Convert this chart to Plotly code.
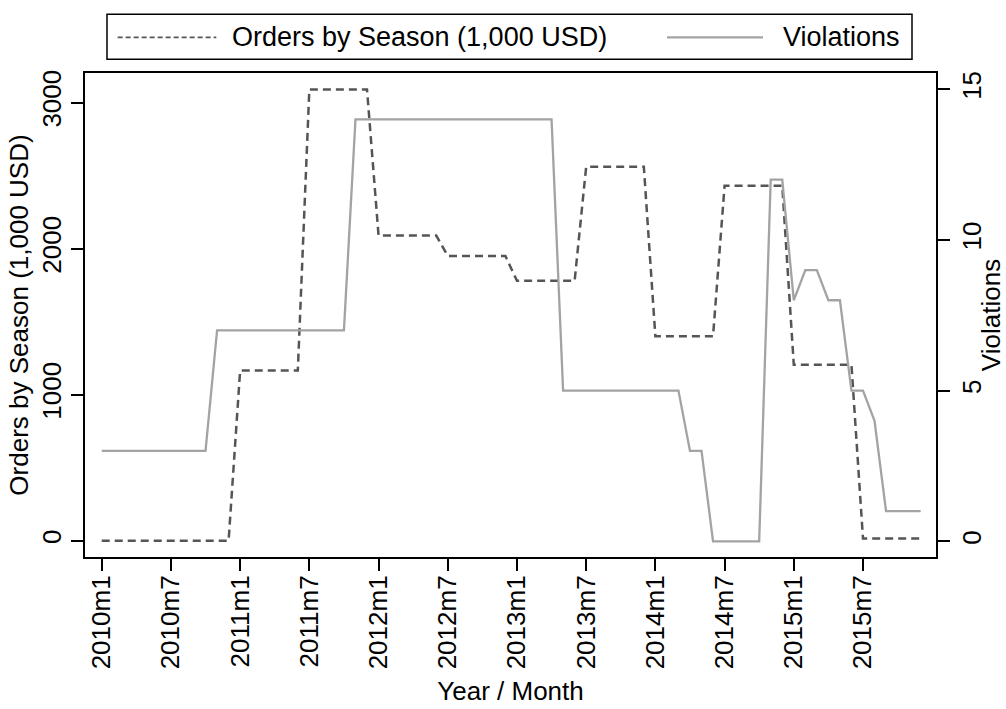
import plotly.graph_objects as go

# ---- data ----
months = [f"{y}m{m}" for y in range(2010, 2016) for m in range(1, 13)]
orders = [0, 0, 0, 0, 0, 0, 0, 0, 0, 0, 0, 0,
          1165, 1165, 1165, 1165, 1165, 1165,
          3090, 3090, 3090, 3090, 3090, 3090,
          2090, 2090, 2090, 2090, 2090, 2090,
          1950, 1950, 1950, 1950, 1950, 1950,
          1780, 1780, 1780, 1780, 1780, 1780,
          2560, 2560, 2560, 2560, 2560, 2560,
          1400, 1400, 1400, 1400, 1400, 1400,
          2430, 2430, 2430, 2430, 2430, 2430,
          1205, 1205, 1205, 1205, 1205, 1205,
          15, 15, 15, 15, 15, 15]
violations = [3, 3, 3, 3, 3, 3, 3, 3, 3, 3,
              7, 7, 7, 7, 7, 7, 7, 7, 7, 7, 7, 7,
              14, 14, 14, 14, 14, 14, 14, 14, 14, 14, 14, 14, 14, 14, 14, 14, 14, 14,
              5, 5, 5, 5, 5, 5, 5, 5, 5, 5, 5,
              3, 3,
              0, 0, 0, 0, 0,
              12, 12,
              8,
              9, 9,
              8, 8,
              5, 5,
              4,
              1, 1, 1, 1]
tick_labels = ["2010m1", "2010m7", "2011m1", "2011m7", "2012m1", "2012m7",
               "2013m1", "2013m7", "2014m1", "2014m7", "2015m1", "2015m7"]
left_ticks = [0, 1000, 2000, 3000]
right_ticks = [0, 5, 10, 15]

FONT = "Liberation Sans, Arial, Helvetica, sans-serif"
DASH_COLOR = "#555555"
SOLID_COLOR = "#a3a3a3"

fig = go.Figure()
fig.add_trace(go.Scatter(x=months, y=orders, mode="lines",
                         name="Orders by Season (1,000 USD)",
                         line=dict(color=DASH_COLOR, width=2.5, dash="8px,5px"),
                         showlegend=False))
fig.add_trace(go.Scatter(x=months, y=violations, mode="lines", name="Violations",
                         yaxis="y2",
                         line=dict(color=SOLID_COLOR, width=2.3),
                         showlegend=False))

axis_common = dict(showgrid=False, zeroline=False, showline=True, linecolor="black",
                   linewidth=2, ticks="outside", ticklen=12, tickwidth=1.5,
                   tickcolor="black", automargin=False,
                   tickfont=dict(family=FONT, size=26, color="black"))

fig.update_layout(
    width=1006, height=709,
    paper_bgcolor="white", plot_bgcolor="white",
    margin=dict(l=85, r=70, t=73, b=152, autoexpand=False),
    font=dict(family=FONT, color="black"),
    xaxis=dict(type="category", range=[-1.45, 72.33], tickvals=tick_labels,
               ticktext=tick_labels, tickangle=-90, mirror=True,
               ticklabelstandoff=-6,
               title=dict(text="Year / Month", font=dict(family=FONT, size=26),
                          standoff=13),
               **axis_common),
    yaxis=dict(range=[-111.5, 3202.6], tickvals=left_ticks, tickangle=-90,
               title=dict(text="Orders by Season (1,000 USD)",
                          font=dict(family=FONT, size=26), standoff=0),
               **axis_common),
    yaxis2=dict(range=[-0.52, 15.54], tickvals=right_ticks, tickangle=-90,
                overlaying="y", side="right",
                title=dict(text="Violations", font=dict(family=FONT, size=26),
                           standoff=0),
                **axis_common),
)

# custom legend box (Stata style)
fig.add_shape(type="rect", xref="paper", yref="paper",
              x0=0.02585, x1=0.9718, y0=1.0283, y1=1.1212,
              line=dict(color="black", width=1.5), fillcolor="white")
fig.add_shape(type="line", xref="paper", yref="paper",
              x0=0.0384, x1=0.1543, y0=1.0737, y1=1.0737,
              line=dict(color=DASH_COLOR, width=1.8, dash="5px,3px"))
fig.add_shape(type="line", xref="paper", yref="paper",
              x0=0.6839, x1=0.7967, y0=1.0737, y1=1.0737,
              line=dict(color=SOLID_COLOR, width=2.3))
fig.add_annotation(xref="paper", yref="paper", x=0.1699, y=1.0737,
                   xanchor="left", yanchor="middle", showarrow=False,
                   text="Orders by Season (1,000 USD)",
                   font=dict(family=FONT, size=27, color="black"))
fig.add_annotation(xref="paper", yref="paper", x=0.8179, y=1.0737,
                   xanchor="left", yanchor="middle", showarrow=False,
                   text="Violations",
                   font=dict(family=FONT, size=27, color="black"))

fig.write_html("out.html", config={"displayModeBar": False},
               post_script="document.body.style.margin='0';document.body.style.overflow='hidden';")
